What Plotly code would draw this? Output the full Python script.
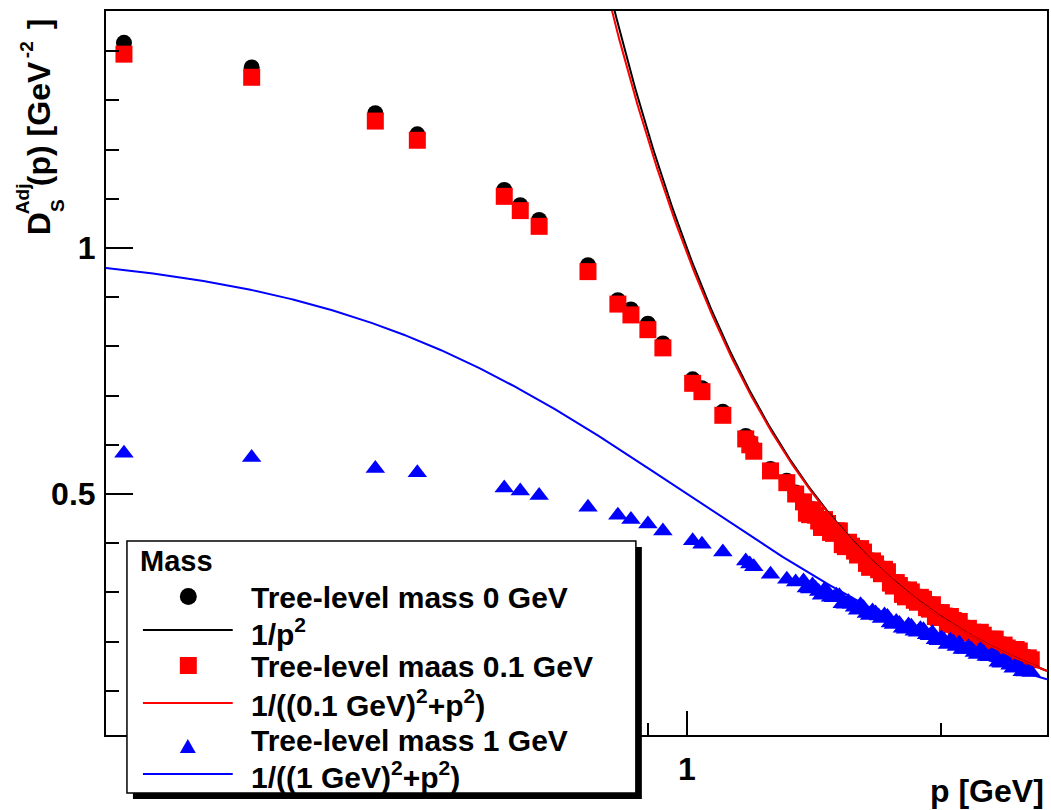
import numpy as np
import plotly.graph_objects as go

# Lattice momenta p [GeV]: low-momentum points, then the two interleaved high-momentum sets
p_data = [0.2159, 0.3057, 0.4281, 0.4800, 0.6082, 0.6353, 0.6688, 0.7640, 0.8288, 0.8588,
          0.8994, 0.9369, 1.016, 1.042, 1.103, 1.174, 1.187, 1.200, 1.256, 1.313, 1.345,
          1.374, 1.397, 1.420, 1.443, 1.467, 1.491, 1.515, 1.540, 1.566, 1.592,
          1.618, 1.645, 1.672, 1.699, 1.727, 1.755, 1.784, 1.814, 1.843, 1.874,
          1.905, 1.936, 1.968, 2.000, 2.033, 2.066, 2.100, 2.135, 2.170, 2.206,
          2.242, 2.279, 2.316, 2.354, 2.393, 2.432, 2.473, 2.513, 2.555,
          1.385, 1.408, 1.432, 1.455, 1.479, 1.503, 1.527, 1.553, 1.579, 1.605,
          1.631, 1.658, 1.686, 1.713, 1.741, 1.769, 1.799, 1.829, 1.858, 1.889,
          1.921, 1.952, 1.984, 2.016, 2.050, 2.083, 2.117, 2.153, 2.188, 2.224,
          2.260, 2.298, 2.335, 2.373, 2.412, 2.452, 2.493, 2.534]

# Tree-level adjoint scalar propagator, mass 0 GeV
d_m0 = [1.417, 1.367, 1.274, 1.231, 1.118, 1.087, 1.057, 0.965, 0.894, 0.875,
        0.846, 0.806, 0.733, 0.715, 0.667, 0.618, 0.606, 0.592, 0.551, 0.527, 0.503,
        0.485, 0.459, 0.458, 0.433, 0.441, 0.421, 0.426, 0.394, 0.395, 0.377,
        0.383, 0.352, 0.359, 0.339, 0.343, 0.314, 0.315, 0.292, 0.302, 0.281,
        0.287, 0.267, 0.252, 0.260, 0.236, 0.244, 0.242, 0.219, 0.220, 0.203,
        0.214, 0.197, 0.206, 0.182, 0.188, 0.174, 0.182, 0.165, 0.164,
        0.462, 0.469, 0.446, 0.449, 0.423, 0.426, 0.398, 0.403, 0.385, 0.390,
        0.360, 0.365, 0.347, 0.348, 0.320, 0.321, 0.297, 0.306, 0.285, 0.291,
        0.270, 0.276, 0.250, 0.253, 0.252, 0.231, 0.220, 0.228, 0.209, 0.220,
        0.200, 0.206, 0.184, 0.194, 0.181, 0.185, 0.165, 0.168]

# Tree-level, mass 0.1 GeV
d_m01 = [1.394, 1.347, 1.258, 1.219, 1.105, 1.076, 1.044, 0.952, 0.886, 0.864,
         0.834, 0.797, 0.725, 0.708, 0.660, 0.612, 0.600, 0.587, 0.547, 0.523, 0.500,
         0.484, 0.458, 0.457, 0.432, 0.440, 0.420, 0.425, 0.393, 0.394, 0.376,
         0.382, 0.351, 0.358, 0.338, 0.342, 0.313, 0.314, 0.291, 0.301, 0.280,
         0.286, 0.266, 0.251, 0.259, 0.235, 0.243, 0.241, 0.218, 0.219, 0.202,
         0.213, 0.196, 0.205, 0.181, 0.187, 0.173, 0.181, 0.164, 0.163,
         0.461, 0.468, 0.445, 0.448, 0.422, 0.425, 0.397, 0.402, 0.384, 0.389,
         0.359, 0.364, 0.346, 0.347, 0.319, 0.320, 0.296, 0.305, 0.284, 0.290,
         0.269, 0.275, 0.249, 0.252, 0.251, 0.230, 0.219, 0.227, 0.208, 0.219,
         0.199, 0.205, 0.183, 0.193, 0.180, 0.184, 0.164, 0.167]

# Tree-level, mass 1 GeV
d_m1 = [0.583, 0.574, 0.552, 0.543, 0.512, 0.506, 0.497, 0.473, 0.457, 0.448,
        0.439, 0.425, 0.405, 0.398, 0.382, 0.364, 0.358, 0.352, 0.337, 0.327, 0.321,
        0.323, 0.307, 0.308, 0.294, 0.301, 0.289, 0.293, 0.276, 0.276, 0.264,
        0.269, 0.253, 0.258, 0.247, 0.251, 0.235, 0.237, 0.225, 0.231, 0.219,
        0.224, 0.212, 0.204, 0.208, 0.194, 0.199, 0.197, 0.184, 0.185, 0.174,
        0.179, 0.169, 0.172, 0.156, 0.158, 0.146, 0.150, 0.138, 0.137,
        0.309, 0.315, 0.302, 0.306, 0.290, 0.294, 0.277, 0.281, 0.270, 0.275,
        0.257, 0.262, 0.252, 0.254, 0.238, 0.241, 0.227, 0.234, 0.221, 0.226,
        0.214, 0.218, 0.202, 0.203, 0.203, 0.190, 0.184, 0.189, 0.178, 0.184,
        0.170, 0.174, 0.158, 0.163, 0.152, 0.153, 0.139, 0.140]

masses = [0.0, 0.1, 1.0]
x_range_log = [-0.687, 0.426]
y_range = [0.0102, 1.4817]

FONT = "Liberation Sans, Arial, Helvetica, sans-serif"
W, H = 1051, 810
ML, MR, MT, MB = 106, 2, 11, 75
PW, PH = W - ML - MR, H - MT - MB


def px(x):
    return (x - ML) / PW


def py(y):
    return (H - MB - y) / PH


# Continuum propagators 1/(m^2 + p^2)
p_line = np.logspace(x_range_log[0], x_range_log[1], 600)
curves = [1.0 / (m ** 2 + p_line ** 2) for m in masses]

fig = go.Figure()
fig.add_trace(go.Scatter(x=p_data, y=d_m0, mode="markers",
                         marker=dict(symbol="circle", size=16, color="black", line=dict(width=0))))
fig.add_trace(go.Scatter(x=p_data, y=d_m01, mode="markers",
                         marker=dict(symbol="square", size=17, color="#ff0000", line=dict(width=0))))
fig.add_trace(go.Scatter(x=p_data, y=d_m1, mode="markers",
                         marker=dict(symbol="triangle-up", size=17, color="#0000ff", line=dict(width=0))))
for c, col in zip(curves, ["black", "#ff0000", "#0000ff"]):
    fig.add_trace(go.Scatter(x=p_line, y=c, mode="lines", line=dict(color=col, width=2)))

tick_font = dict(family=FONT, size=32, color="black", weight="bold")

fig.update_xaxes(type="log", range=x_range_log, showgrid=False, zeroline=False,
                 showline=True, linecolor="black", linewidth=2, mirror=True,
                 tickmode="array", tickvals=[1], ticktext=["1"],
                 ticks="inside", ticklen=24, tickwidth=2, tickcolor="black",
                 tickfont=tick_font, ticklabelstandoff=5,
                 minor=dict(tickmode="array", tickvals=[0.3, 0.4, 0.5, 0.6, 0.7, 0.8, 0.9, 2],
                            ticks="inside", ticklen=12, tickwidth=2, tickcolor="black",
                            showgrid=False))
fig.update_yaxes(range=y_range, showgrid=False, zeroline=False,
                 showline=True, linecolor="black", linewidth=2, mirror=True,
                 tickmode="array", tickvals=[0.5, 1], ticktext=["0.5", "1"],
                 ticks="inside", ticklen=27, tickwidth=2, tickcolor="black",
                 tickfont=tick_font, ticklabelstandoff=2,
                 minor=dict(dtick=0.1, tick0=0, ticks="inside", ticklen=13, tickwidth=2,
                            tickcolor="black", showgrid=False))

ann = []


def text(x, y, s, size, xanchor="center", angle=0):
    ann.append(dict(x=px(x), y=py(y), xref="paper", yref="paper", text=s, showarrow=False,
                    xanchor=xanchor, yanchor="middle", textangle=angle,
                    font=dict(family=FONT, size=size, color="black", weight="bold")))


# y-axis title with stacked sub/superscripts
text(39, 224, "D", 32, angle=-90)
text(57, 206, "S", 19, angle=-90)
text(22, 199, "Adj", 19, angle=-90)
text(39, 124, "(p) [GeV", 32, angle=-90)
text(26, 50, "-2", 19, angle=-90)
text(39, 24, "]", 32, angle=-90)

# x-axis title
text(1048, 791, "p [GeV]", 32, xanchor="right")

# Legend box with drop shadow
shapes = [
    dict(type="rect", xref="paper", yref="paper", x0=px(133), x1=px(643), y0=py(547), y1=py(799),
         fillcolor="black", line=dict(width=0), layer="above"),
    dict(type="rect", xref="paper", yref="paper", x0=px(127), x1=px(637), y0=py(541), y1=py(793),
         fillcolor="white", line=dict(color="black", width=1.5), layer="above"),
    dict(type="circle", xref="paper", yref="paper", x0=px(180), x1=px(197), y0=py(588), y1=py(605),
         fillcolor="black", line=dict(width=0), layer="above"),
    dict(type="line", xref="paper", yref="paper", x0=px(143), x1=px(233), y0=py(630), y1=py(630),
         line=dict(color="black", width=2), layer="above"),
    dict(type="rect", xref="paper", yref="paper", x0=px(180), x1=px(197), y0=py(657), y1=py(674),
         fillcolor="#ff0000", line=dict(width=0), layer="above"),
    dict(type="line", xref="paper", yref="paper", x0=px(143), x1=px(233), y0=py(703), y1=py(703),
         line=dict(color="#ff0000", width=2), layer="above"),
    dict(type="path", xref="paper", yref="paper",
         path=f"M {px(180)} {py(753)} L {px(196)} {py(753)} L {px(188)} {py(739)} Z",
         fillcolor="#0000ff", line=dict(width=0), layer="above"),
    dict(type="line", xref="paper", yref="paper", x0=px(143), x1=px(233), y0=py(774), y1=py(774),
         line=dict(color="#0000ff", width=2), layer="above"),
]

text(138, 561, "Mass", 29, xanchor="left")
legend_rows = [
    (597, "Tree-level mass 0 GeV"),
    (632, "1/p<sup>2</sup>"),
    (666, "Tree-level maas 0.1 GeV"),
    (703, "1/((0.1 GeV)<sup>2</sup>+p<sup>2</sup>)"),
    (740, "Tree-level mass 1 GeV"),
    (775, "1/((1 GeV)<sup>2</sup>+p<sup>2</sup>)"),
]
for y, s in legend_rows:
    text(249, y, s, 30, xanchor="left")

fig.update_layout(width=W, height=H, margin=dict(l=ML, r=MR, t=MT, b=MB),
                  paper_bgcolor="white", plot_bgcolor="white", showlegend=False,
                  annotations=ann, shapes=shapes)

fig.write_html("out.html")
